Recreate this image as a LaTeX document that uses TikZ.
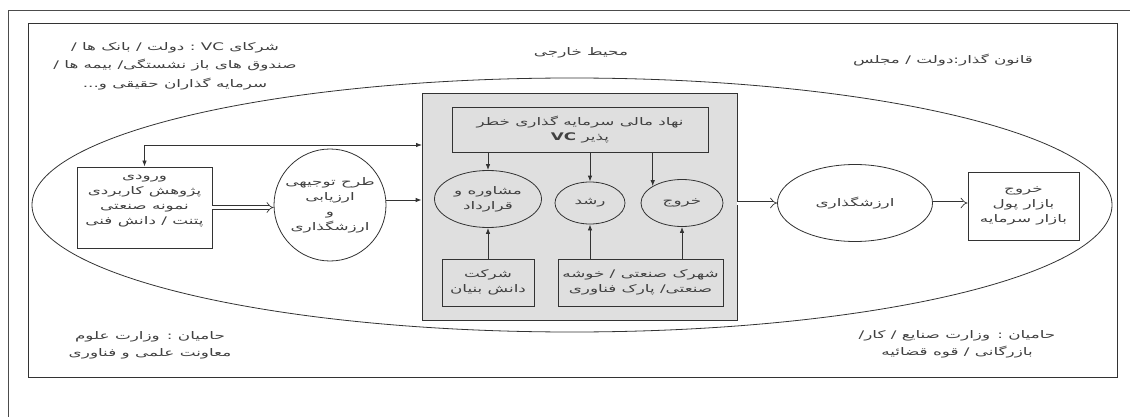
\documentclass[tikz,border=0pt]{standalone}
\usepackage{fontspec}
\newfontfamily\farsi[Script=Arabic,FakeStretch=1.6]{DejaVu Sans}
\TeXXeTstate=1
\usetikzlibrary{arrows.meta,shapes,positioning}
\newcommand{\fa}[1]{\beginR #1\endR}
\newcommand{\lat}[1]{\beginL #1\endL{}}

\begin{document}
\begin{tikzpicture}[x=1pt,y=-1pt]
                \tikzstyle{every node}+=[inner sep=0pt, align=center, text=black!75,
                  font=\farsi\fontsize{10.5}{15}\selectfont]
                \tikzstyle{ln}=[draw=black!80, line width=0.8pt]
                \tikzstyle{box}=[ln, rectangle, fill=white]
                \tikzstyle{gbox}=[ln, rectangle, fill=gray!25]
                \tikzstyle{oval}=[ln, ellipse, fill=gray!25]
                \tikzstyle{arr}=[ln, -{Latex[length=6pt,width=4.5pt]}]
                \tikzstyle{dbl}=[draw=black!80, line width=0.7pt, double, double distance=3pt, -{Implies[scale=1.3]}]
                \useasboundingbox (0,0) rectangle (1130,417);
                % frames
                \draw [black!70, line width=0.8pt] (8,417) -- (8,10) -- (1130,10);
                \draw [black!80, line width=1pt] (28,24) rectangle (1117,377);
                \node [ln, ellipse, minimum width=1080, minimum height=254] (env) at (572,205) {};
                % outside texts
                \node [font=\farsi\fontsize{10.5}{18.5}\selectfont] (partners) at (175,66)
                  {\fa{شرکای \lat{VC} : دولت / بانک ها /}\\\fa{صندوق های باز نشستگی/ بیمه ها /}\\\fa{سرمایه گذاران حقیقی و...}};
                \node (outside) at (581,53) {\fa{محیط خارجی}};
                \node (law) at (943,60) {\fa{قانون گذار:دولت / مجلس}};
                \node [font=\farsi\fontsize{10.5}{17}\selectfont] (supA) at (150,345)
                  {\fa{حامیان : وزارت علوم}\\\fa{معاونت علمی و فناوری}};
                \node [font=\farsi\fontsize{10.5}{17}\selectfont] (supB) at (957,344)
                  {\fa{حامیان : وزارت صنایع / کار/}\\\fa{بازرگانی / قوه قضائیه}};
                % left part
                \node [box, minimum width=135, minimum height=81, text depth=16pt] (input) at (144.5,207.5)
                  {\fa{ورودی}\\\fa{پژوهش کاربردی}\\\fa{نمونه صنعتی}\\\fa{پتنت / دانش فنی}};
                \node [box, circle, minimum size=112] (plan) at (330,205)
                  {\fa{طرح توجیهی}\\\fa{ارزیابی}\\\fa{و}\\\fa{ارزشگذاری}};
                % VC block
                \node [gbox, minimum width=315, minimum height=227] (vcblock) at (579.5,206.5) {};
                \node [gbox, minimum width=256, minimum height=45] (vc) at (580,129.5)
                  {\fa{نهاد مالی سرمایه گذاری خطر}\\\fa{پذیر \textbf{\lat{VC}}}};
                \node [oval, minimum width=107, minimum height=57] (consult) at (488,199)
                  {\fa{مشاوره و}\\\fa{قرارداد}};
                \node [oval, minimum width=70, minimum height=42] (growth) at (590,203) {\fa{رشد}};
                \node [oval, minimum width=82, minimum height=47] (exitA) at (682,203) {\fa{خروج}};
                \node [gbox, minimum width=92, minimum height=47] (firm) at (488,282.5)
                  {\fa{شرکت}\\\fa{دانش بنیان}};
                \node [gbox, minimum width=165, minimum height=47] (park) at (640.5,282.5)
                  {\fa{شهرک صنعتی / خوشه}\\\fa{صنعتی/ پارک فناوری}};
                % right part
                \node [box, ellipse, minimum width=155, minimum height=77] (value) at (855,203)
                  {\fa{ارزشگذاری}};
                \node [box, minimum width=111, minimum height=68] (market) at (1023.5,206)
                  {\fa{خروج}\\\fa{بازار پول}\\\fa{بازار سرمایه}};
                % connectors
                \coordinate (fb) at (422,145);
                \draw [ln, {Latex[length=6pt,width=4.5pt]}-{Latex[length=6pt,width=4.5pt]}] (input.north) |- (fb);
                \draw [dbl] (input.east) -- (plan.west |- input.east);
                \draw [arr] ([yshift=5pt]plan.east) -- ([yshift=5pt]plan.east -| vcblock.west);
                \draw [arr] (vc.south -| consult) -- (consult);
                \draw [arr] (vc.south -| growth) -- (growth);
                \draw [arr] (vc.south -| exitA.north west) -- (exitA.north west);
                \draw [arr] (firm) -- (consult);
                \draw [arr] (park.north -| growth) -- (growth);
                \draw [arr] (park.north -| exitA) -- (exitA);
                \draw [dbl] (vcblock.east |- value) -- (value.west);
                \draw [dbl] (value.east) -- (market.west |- value);
            \end{tikzpicture}
\end{document}
